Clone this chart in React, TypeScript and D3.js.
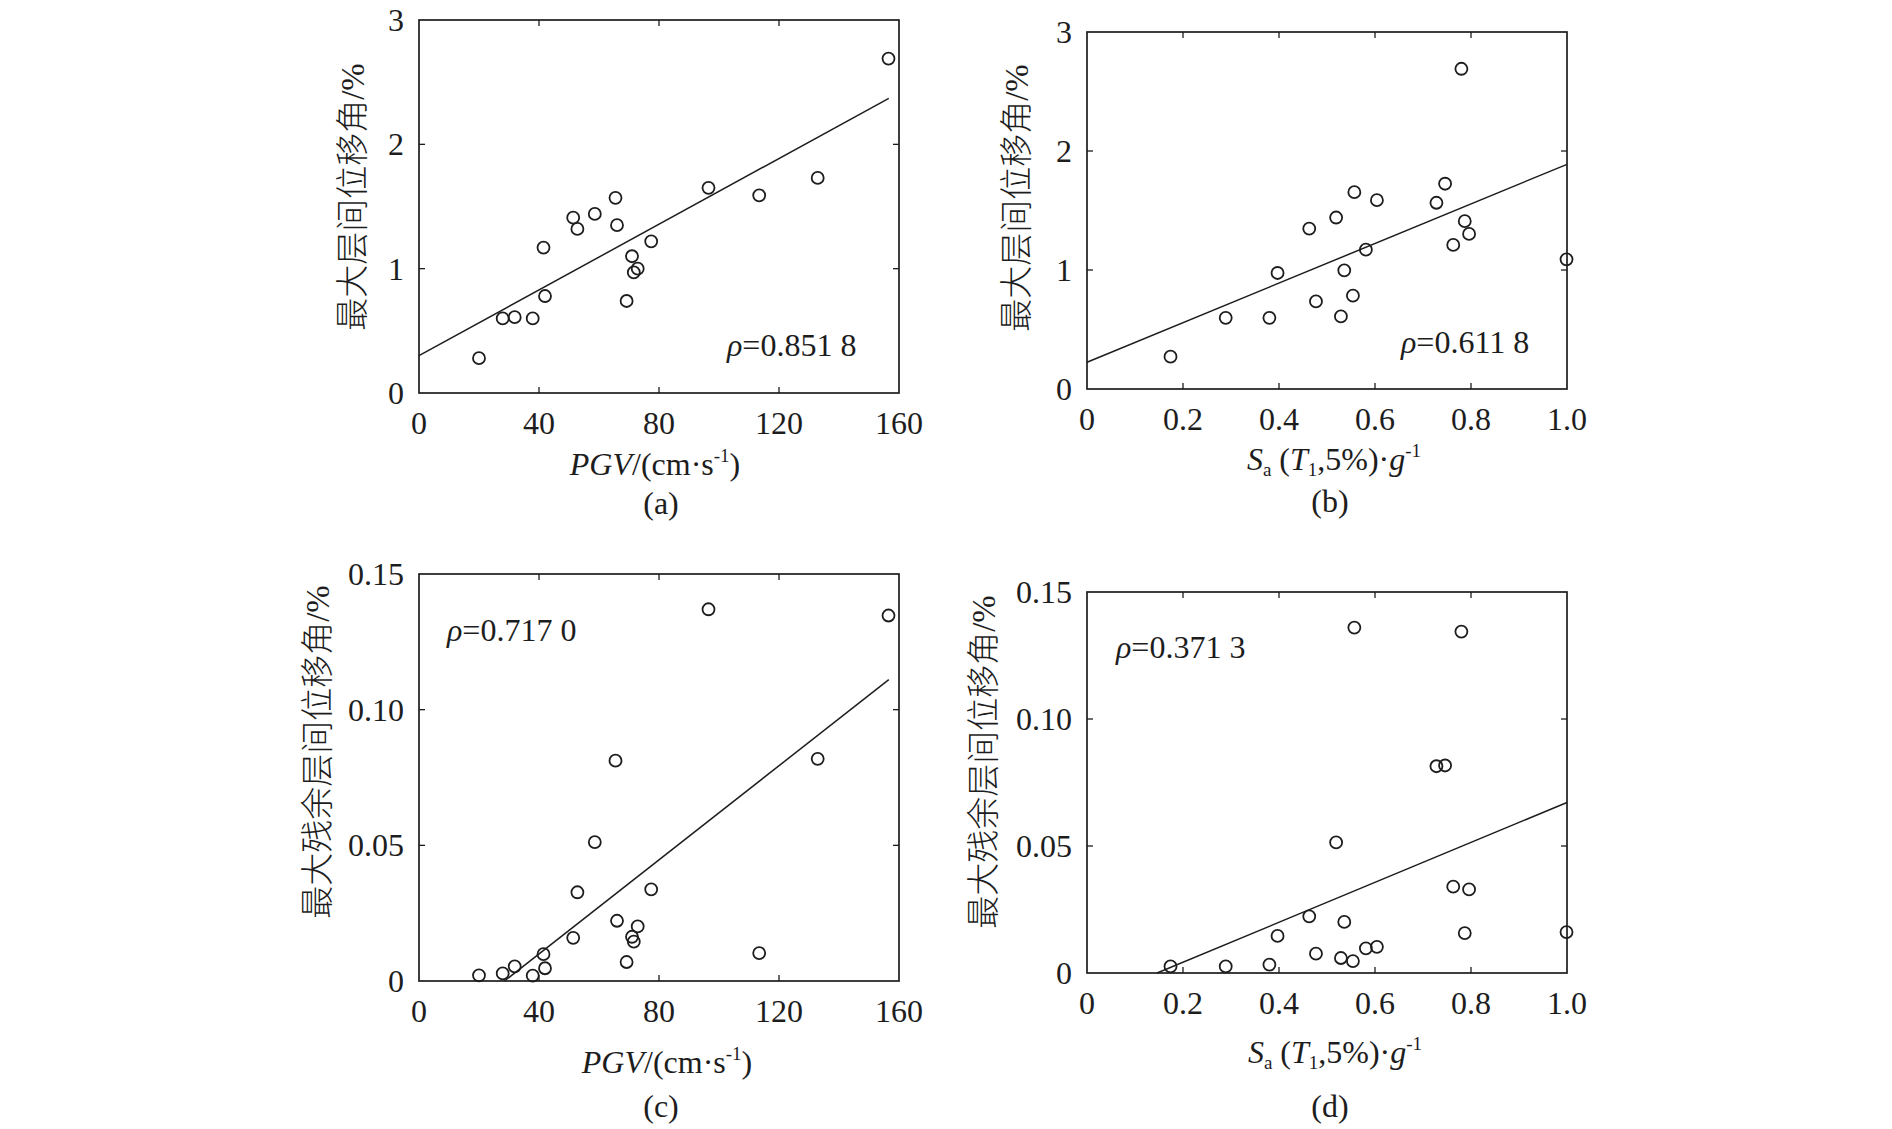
import React from 'react';
import * as d3 from 'd3';

// PGV (cm/s) and Sa(T1,5%)/g of the 20 records
const pgv = [20.0, 27.9, 31.9, 37.9, 41.5, 42.0, 51.4, 52.8, 58.6, 65.5, 66.0, 69.2, 71.0, 71.6, 72.9, 77.4, 96.5, 113.4, 132.9, 156.5];
const driftPgv = [0.28, 0.6, 0.61, 0.6, 1.17, 0.78, 1.41, 1.32, 1.44, 1.57, 1.35, 0.74, 1.1, 0.97, 1.0, 1.22, 1.65, 1.59, 1.73, 2.69];
const residPgv = [0.0021, 0.0028, 0.0054, 0.002, 0.0099, 0.0047, 0.0159, 0.0327, 0.0512, 0.0812, 0.0222, 0.007, 0.0163, 0.0145, 0.0201, 0.0338, 0.137, 0.0103, 0.0819, 0.1347];

const sa = [0.174, 0.289, 0.38, 0.397, 0.463, 0.477, 0.519, 0.529, 0.536, 0.554, 0.557, 0.581, 0.604, 0.728, 0.746, 0.763, 0.78, 0.787, 0.796, 0.999];
const driftSa = [0.272, 0.598, 0.598, 0.975, 1.348, 0.736, 1.441, 0.61, 0.997, 0.784, 1.654, 1.171, 1.587, 1.565, 1.725, 1.211, 2.691, 1.41, 1.303, 1.09];
const residSa = [0.0026, 0.0026, 0.0033, 0.0146, 0.0223, 0.0076, 0.0514, 0.0059, 0.0201, 0.0047, 0.136, 0.0097, 0.0103, 0.0814, 0.0817, 0.034, 0.1344, 0.0157, 0.0329, 0.0161];

// linear fits, panels a-d
const fitIntercept = [0.3, 0.225, -0.0247, -0.01147];
const fitSlope = [0.01322, 1.663, 0.000867, 0.0786];
const fitXEnd = [156.6, 1.0, 156.6, 1.0];
const rhoText = ['0.851 8', '0.611 8', '0.717 0', '0.371 3'];

const pgvTicks = [0, 40, 80, 120, 160];
const pgvTickLabels = ['0', '40', '80', '120', '160'];
const saTicks = [0, 0.2, 0.4, 0.6, 0.8, 1.0];
const saTickLabels = ['0', '0.2', '0.4', '0.6', '0.8', '1.0'];
const driftTicks = [0, 1, 2, 3];
const driftTickLabels = ['0', '1', '2', '3'];
const residTicks = [0, 0.05, 0.1, 0.15];
const residTickLabels = ['0', '0.05', '0.10', '0.15'];

const panelLetters = ['(a)', '(b)', '(c)', '(d)'];

const FONT = "'Liberation Serif', 'Times New Roman', 'Noto Sans CJK SC', serif";
const INK = '#1d1d1d';

interface PanelProps {
  idx: number;
  box: { left: number; top: number; width: number; height: number };
  xs: number[];
  ys: number[];
  xDomain: [number, number];
  yDomain: [number, number];
  xTicks: number[];
  xTickLabels: string[];
  yTicks: number[];
  yTickLabels: string[];
  yTitle: string;
  yTitlePos: [number, number];
  xTitle: 'pgv' | 'sa';
  xTitlePos: [number, number];
  letterPos: [number, number];
  rhoPos: [number, number];
}

const Panel = (p: PanelProps) => {
  const { left, top, width, height } = p.box;
  const x = d3.scaleLinear().domain(p.xDomain).range([left, left + width]);
  const y = d3.scaleLinear().domain(p.yDomain).range([top + height, top]);
  const tick = 6;

  // fitted line, clipped at y = 0
  const b0 = fitIntercept[p.idx];
  const b1 = fitSlope[p.idx];
  const xStart = Math.max(p.xDomain[0], b0 < 0 ? -b0 / b1 : p.xDomain[0]);
  const fitPts: [number, number][] = [xStart, fitXEnd[p.idx]].map(v => [v, b0 + b1 * v]);
  const line = d3.line<[number, number]>().x(d => x(d[0])).y(d => y(d[1]));

  return (
    <g>
      {/* ticks on all four sides, pointing inward */}
      <g stroke={INK} strokeWidth={1.3}>
        {p.xTicks.slice(1, -1).map(t => (
          <g key={'xt' + t}>
            <line x1={x(t)} x2={x(t)} y1={top + height} y2={top + height - tick} />
            <line x1={x(t)} x2={x(t)} y1={top} y2={top + tick} />
          </g>
        ))}
        {p.yTicks.slice(1, -1).map(t => (
          <g key={'yt' + t}>
            <line x1={left} x2={left + tick} y1={y(t)} y2={y(t)} />
            <line x1={left + width} x2={left + width - tick} y1={y(t)} y2={y(t)} />
          </g>
        ))}
      </g>
      <rect x={left} y={top} width={width} height={height} fill="none" stroke={INK} strokeWidth={1.7} />

      <path d={line(fitPts) || ''} fill="none" stroke={INK} strokeWidth={1.5} />

      {p.xs.map((v, i) => (
        <circle key={i} cx={x(v)} cy={y(p.ys[i])} r={6} fill="none" stroke={INK} strokeWidth={1.8} />
      ))}

      <g fontFamily={FONT} fontSize={32} fill={INK}>
        {p.xTicks.map((t, i) => (
          <text key={'xl' + t} x={x(t)} y={top + height + 41} textAnchor="middle">{p.xTickLabels[i]}</text>
        ))}
        {p.yTicks.map((t, i) => (
          <text key={'yl' + t} x={left - 15} y={y(t)} textAnchor="end" dominantBaseline="central">{p.yTickLabels[i]}</text>
        ))}

        <text transform={`translate(${p.yTitlePos[0]},${p.yTitlePos[1]}) rotate(-90)`} textAnchor="middle"
          dominantBaseline="central" fontSize={33} fontWeight={300}>{p.yTitle}</text>

        {p.xTitle === 'pgv' ? (
          <text x={p.xTitlePos[0]} y={p.xTitlePos[1]} textAnchor="middle">
            <tspan fontStyle="italic">PGV</tspan>
            <tspan>/(cm·s</tspan>
            <tspan fontSize={19} dy={-13}>-1</tspan>
            <tspan dy={13}>)</tspan>
          </text>
        ) : (
          <text x={p.xTitlePos[0]} y={p.xTitlePos[1]} textAnchor="middle">
            <tspan fontStyle="italic">S</tspan>
            <tspan fontSize={19} dy={6}>a</tspan>
            <tspan dy={-6}> (</tspan>
            <tspan fontStyle="italic">T</tspan>
            <tspan fontSize={19} dy={6}>1</tspan>
            <tspan dy={-6}>,5%)·</tspan>
            <tspan fontStyle="italic">g</tspan>
            <tspan fontSize={19} dy={-13}>-1</tspan>
          </text>
        )}

        <text x={p.letterPos[0]} y={p.letterPos[1]} textAnchor="middle">{panelLetters[p.idx]}</text>

        <text x={p.rhoPos[0]} y={p.rhoPos[1]}>
          <tspan fontStyle="italic">ρ</tspan>
          <tspan>={rhoText[p.idx]}</tspan>
        </text>
      </g>
    </g>
  );
};

const App = () => {
  const driftTitle = '最大层间位移角/%';
  const residTitle = '最大残余层间位移角/%';
  return (
    <svg width={1892} height={1129} style={{ position: 'absolute', left: 0, top: 0, background: '#fff' }}>
      <rect width={1892} height={1129} fill="#fff" />
      <Panel idx={0} box={{ left: 419, top: 20, width: 480, height: 373 }}
        xs={pgv} ys={driftPgv} xDomain={[0, 160]} yDomain={[0, 3]}
        xTicks={pgvTicks} xTickLabels={pgvTickLabels} yTicks={driftTicks} yTickLabels={driftTickLabels}
        yTitle={driftTitle} yTitlePos={[353, 197]} xTitle="pgv" xTitlePos={[655, 475]}
        letterPos={[661, 514]} rhoPos={[727, 356]} />
      <Panel idx={1} box={{ left: 1087, top: 32, width: 480, height: 357 }}
        xs={sa} ys={driftSa} xDomain={[0, 1]} yDomain={[0, 3]}
        xTicks={saTicks} xTickLabels={saTickLabels} yTicks={driftTicks} yTickLabels={driftTickLabels}
        yTitle={driftTitle} yTitlePos={[1017, 198]} xTitle="sa" xTitlePos={[1334, 470]}
        letterPos={[1330, 512]} rhoPos={[1401, 353]} />
      <Panel idx={2} box={{ left: 419, top: 574, width: 480, height: 407 }}
        xs={pgv} ys={residPgv} xDomain={[0, 160]} yDomain={[0, 0.15]}
        xTicks={pgvTicks} xTickLabels={pgvTickLabels} yTicks={residTicks} yTickLabels={residTickLabels}
        yTitle={residTitle} yTitlePos={[318, 752]} xTitle="pgv" xTitlePos={[667, 1073]}
        letterPos={[661, 1117]} rhoPos={[447, 641]} />
      <Panel idx={3} box={{ left: 1087, top: 592, width: 480, height: 381 }}
        xs={sa} ys={residSa} xDomain={[0, 1]} yDomain={[0, 0.15]}
        xTicks={saTicks} xTickLabels={saTickLabels} yTicks={residTicks} yTickLabels={residTickLabels}
        yTitle={residTitle} yTitlePos={[984, 762]} xTitle="sa" xTitlePos={[1335, 1063]}
        letterPos={[1330, 1117]} rhoPos={[1116, 658]} />
    </svg>
  );
};

export default App;
